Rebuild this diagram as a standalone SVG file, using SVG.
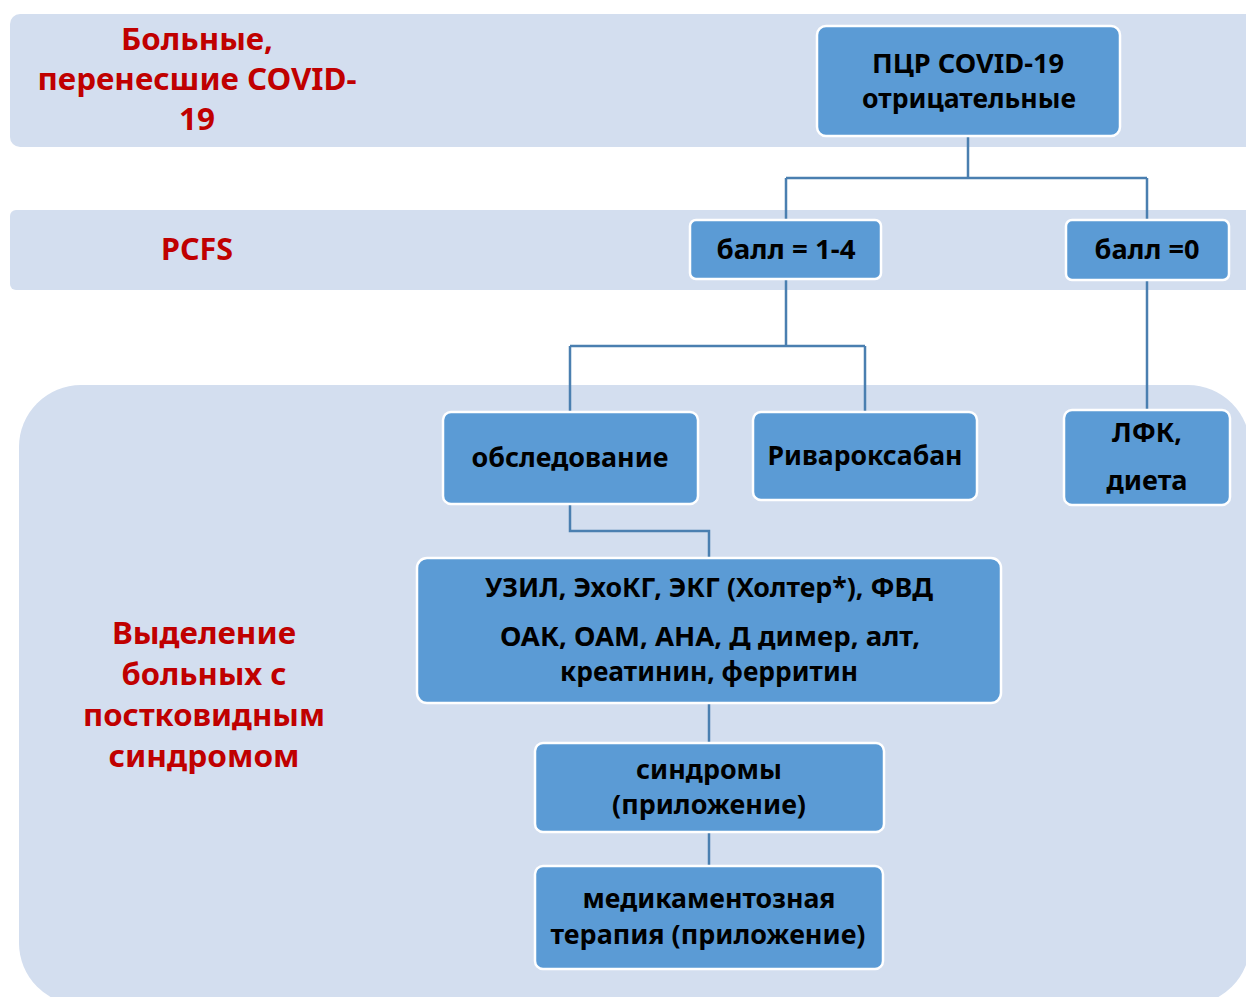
<svg xmlns="http://www.w3.org/2000/svg" width="1246" height="997" viewBox="0 0 1246 997">
<style>
.band{fill:#d3deef}
.node{fill:#5b9bd5;stroke:#ffffff;stroke-width:2.5}
.t{font-family:"Noto Sans","Open Sans","DejaVu Sans",sans-serif;font-weight:700;fill:#000;text-anchor:middle}
.r{font-family:"Noto Sans","Open Sans","DejaVu Sans",sans-serif;font-weight:700;fill:#c00000;text-anchor:middle}
.c{fill:none;stroke:#4a7fb0;stroke-width:2.5}
</style>
<rect width="1246" height="997" fill="#ffffff"/>
<g id="bands">
<rect class="band" x="10" y="14" width="1260" height="133" rx="10"/>
<rect class="band" x="10" y="210" width="1260" height="80" rx="6"/>
<rect class="band" x="19" y="385" width="1231" height="620" rx="62"/>
</g>
<g id="labels">
<text class="r" font-size="30" x="197" y="50" textLength="152" lengthAdjust="spacingAndGlyphs">Больные,</text>
<text class="r" font-size="30" x="197" y="90" textLength="319" lengthAdjust="spacingAndGlyphs">перенесшие COVID-</text>
<text class="r" font-size="30" x="197" y="130" textLength="36" lengthAdjust="spacingAndGlyphs">19</text>
<text class="r" font-size="30" x="197" y="260" textLength="72" lengthAdjust="spacingAndGlyphs">PCFS</text>
<text class="r" font-size="30" x="204" y="644" textLength="184" lengthAdjust="spacingAndGlyphs">Выделение</text>
<text class="r" font-size="30" x="204" y="685" textLength="165" lengthAdjust="spacingAndGlyphs">больных с</text>
<text class="r" font-size="30" x="204" y="726" textLength="242" lengthAdjust="spacingAndGlyphs">постковидным</text>
<text class="r" font-size="30" x="204" y="767" textLength="191" lengthAdjust="spacingAndGlyphs">синдромом</text>
</g>
<g id="connectors">
<path class="c" d="M968 137V178M786 178H1147M786 178V220M1147 178V220"/>
<path class="c" d="M786 280V346M570 346H865M570 346V412M865 346V412"/>
<path class="c" d="M1147 280V410"/>
<path class="c" d="M570 504V531H709V558"/>
<path class="c" d="M709 703V743"/>
<path class="c" d="M709 832V866"/>
</g>
<g id="n-pcr">
<rect class="node" x="817" y="26" width="303" height="110" rx="9"/>
<text class="t" font-size="27" x="968" y="73" textLength="192" lengthAdjust="spacingAndGlyphs">ПЦР COVID-19</text>
<text class="t" font-size="27" x="969" y="108" textLength="214" lengthAdjust="spacingAndGlyphs">отрицательные</text>
</g>
<g id="n-ball14">
<rect class="node" x="690" y="220" width="191" height="59" rx="6"/>
<text class="t" font-size="27" x="786" y="259" textLength="139" lengthAdjust="spacingAndGlyphs">балл = 1-4</text>
</g>
<g id="n-ball0">
<rect class="node" x="1066" y="220" width="163" height="60" rx="6"/>
<text class="t" font-size="27" x="1147" y="259" textLength="105" lengthAdjust="spacingAndGlyphs">балл =0</text>
</g>
<g id="n-obsl">
<rect class="node" x="443" y="412" width="255" height="92" rx="8"/>
<text class="t" font-size="27" x="570" y="467" textLength="197" lengthAdjust="spacingAndGlyphs">обследование</text>
</g>
<g id="n-rivar">
<rect class="node" x="753" y="412" width="224" height="88" rx="8"/>
<text class="t" font-size="27" x="865" y="465" textLength="195" lengthAdjust="spacingAndGlyphs">Ривароксабан</text>
</g>
<g id="n-lfk">
<rect class="node" x="1064" y="410" width="166" height="95" rx="8"/>
<text class="t" font-size="27" x="1147" y="442" textLength="70" lengthAdjust="spacingAndGlyphs">ЛФК,</text>
<text class="t" font-size="27" x="1147" y="490" textLength="81" lengthAdjust="spacingAndGlyphs">диета</text>
</g>
<g id="n-uzil">
<rect class="node" x="417" y="558" width="584" height="145" rx="10"/>
<text class="t" font-size="27" x="709" y="597" textLength="448" lengthAdjust="spacingAndGlyphs">УЗИЛ, ЭхоКГ, ЭКГ (Холтер*), ФВД</text>
<text class="t" font-size="27" x="710" y="646" textLength="420" lengthAdjust="spacingAndGlyphs">ОАК, ОАМ, АНА, Д димер, алт,</text>
<text class="t" font-size="27" x="709" y="681" textLength="298" lengthAdjust="spacingAndGlyphs">креатинин, ферритин</text>
</g>
<g id="n-synd">
<rect class="node" x="535" y="743" width="349" height="89" rx="8"/>
<text class="t" font-size="27" x="709" y="779" textLength="146" lengthAdjust="spacingAndGlyphs">синдромы</text>
<text class="t" font-size="27" x="709" y="814" textLength="194" lengthAdjust="spacingAndGlyphs">(приложение)</text>
</g>
<g id="n-med">
<rect class="node" x="535" y="866" width="348" height="103" rx="8"/>
<text class="t" font-size="27" x="709" y="908" textLength="253" lengthAdjust="spacingAndGlyphs">медикаментозная</text>
<text class="t" font-size="27" x="708" y="944" textLength="315" lengthAdjust="spacingAndGlyphs">терапия (приложение)</text>
</g>
</svg>
